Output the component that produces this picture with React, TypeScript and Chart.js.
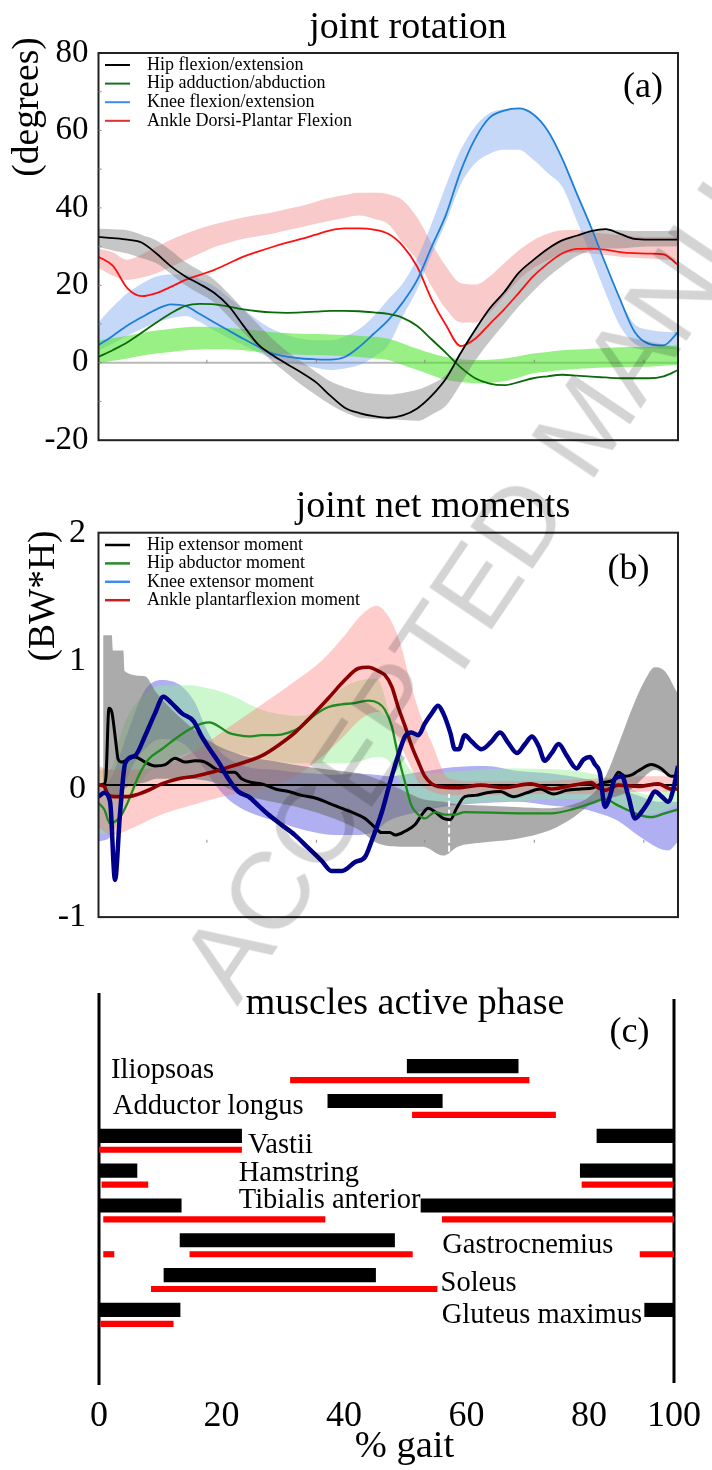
import React, { useEffect, useRef } from 'react';
import { Chart, registerables } from 'chart.js';

Chart.register(...registerables);

const SERIF = '"Liberation Serif", "Times New Roman", Times, serif';

// ================= Panel (a): joint rotation (degrees) =================
const GAIT_A = [0, 2.5, 5, 7.5, 10, 12.5, 15, 17.5, 20, 22.5, 25, 27.5, 30, 32.5, 35, 37.5, 40, 42.5, 45, 47.5, 50, 52.5, 55, 57.5, 60, 62.5, 65, 67.5, 70, 72.5, 75, 77.5, 80, 82.5, 85, 87.5, 90, 92.5, 95, 97.5, 100];

const HIP_FLEX = [32.5, 32.2, 31.8, 31, 28.2, 24.9, 22.3, 20.3, 18, 14.6, 9.6, 4.8, 2, -0.3, -2.5, -5, -8.5, -11.6, -13, -13.8, -14.2, -13.6, -11.8, -8.5, -4, 2.5, 8.5, 14, 18.2, 23.2, 26.5, 29.4, 31.6, 32.8, 34, 34.5, 33.3, 32, 31.8, 31.8, 31.8];
const HIP_FLEX_HI = [34.6, 34.5, 34.2, 33, 31.6, 29, 26, 23.8, 21.4, 17.8, 13.8, 10, 6.2, 3, 0.3, -2.3, -4.8, -6.3, -7.4, -8, -8.2, -7.8, -7, -5.5, -3, 2.5, 8.5, 14, 18.5, 23, 26.5, 29.5, 31.6, 33, 34, 34.5, 34.2, 34, 34, 34, 34.2];
const HIP_FLEX_LO = [29.9, 29, 28.2, 27, 25.7, 23, 20, 17.8, 15.5, 11.8, 7.9, 4, 0.3, -2.7, -5.7, -8.3, -10.8, -12.8, -14.2, -14.5, -14.6, -14.8, -15, -13.4, -11, -5.5, 0.5, 5.5, 10, 14.5, 18.5, 22, 25, 27.5, 29, 29.5, 29.5, 29.8, 30, 30, 30];

const HIP_ADD = [1.5, 3.3, 5.3, 7.8, 10.4, 12.8, 14.7, 15.2, 15.1, 14.5, 13.8, 13.3, 13, 12.9, 13, 13.2, 13.4, 13.4, 13.3, 13, 12.6, 11.6, 9.5, 6, 2.5, -1.2, -4, -5.4, -5.8, -5, -4, -3.5, -3.1, -3.3, -3.6, -3.8, -4, -4, -4, -3.5, -1.9];
const HIP_ADD_HI = [5.8, 6.4, 7, 7.7, 8.3, 8.8, 9.2, 9.3, 9.2, 9, 8.7, 8.3, 7.9, 7.7, 7.5, 7.4, 7.3, 7.2, 7, 6.7, 6.2, 5, 3.6, 2.4, 1.5, 0.9, 0.7, 0.8, 1.1, 1.7, 2.4, 2.8, 3.2, 3.4, 3.6, 3.8, 4, 4.1, 4.1, 4.3, 4.5];
const HIP_ADD_LO = [-0.2, 0.5, 1.1, 1.8, 2.4, 2.8, 3.2, 3.4, 3.5, 3.4, 3.2, 2.8, 2.4, 2.2, 2.1, 2, 1.9, 1.7, 1.5, 1.1, 0.7, -0.6, -1.9, -3.2, -4.4, -5, -5.3, -5.2, -4.8, -3.8, -2.7, -2.3, -1.9, -1.6, -1.4, -1.2, -1.1, -1, -1, -0.8, -0.6];

const KNEE_FLEX = [4.5, 7, 9.6, 11.8, 13.8, 15.1, 14.7, 12.6, 10.4, 8.3, 6.2, 4.2, 2.4, 1.6, 1.1, 0.9, 0.8, 1.5, 4.1, 7.5, 11, 15.6, 21.4, 30, 38.4, 49.5, 57.9, 63.3, 65.1, 65.7, 64.2, 60, 52.8, 43.8, 35, 25.5, 16.4, 8, 4.9, 4.5, 7.9];
const KNEE_FLEX_HI = [10.4, 14.5, 18, 20.5, 22.3, 22.8, 22.7, 21.5, 19.7, 16.8, 13.8, 11, 8.7, 7.2, 6.2, 5.8, 5.8, 6.8, 8.7, 12, 16.4, 20.5, 27, 36, 46, 55, 61, 64.5, 65.5, 65.7, 64.2, 60, 52.8, 43.8, 35, 25.5, 16.4, 10, 8.5, 8, 7.9];
const KNEE_FLEX_LO = [3.2, 5, 7, 8.8, 10.4, 11.5, 12.1, 10.5, 8.3, 6.3, 4.5, 2.7, 1.1, 0.2, -0.6, -1.3, -1.9, -1.5, -0.6, 1.5, 4.5, 12, 19, 28, 36.5, 46, 51.5, 54, 55, 55, 52.5, 49, 45.5, 36.8, 27.5, 18, 9.5, 5, 3.8, 3.6, 3.5];

const ANKLE_FLEX = [27.4, 25, 19.2, 17.2, 18, 19.6, 21.4, 22.7, 24, 25.7, 27.4, 28.7, 29.9, 31, 32, 33.1, 34.2, 34.7, 34.7, 34.4, 33.3, 30.2, 24.8, 16.3, 9.6, 4.3, 6.2, 10, 13.8, 18, 22.3, 25.6, 28.2, 29.4, 29.5, 29.2, 28.6, 28.3, 28.2, 28, 25.3];
const ANKLE_FLEX_HI = [29.5, 28.5, 26.6, 28, 29.9, 31.8, 33.3, 34.7, 35.8, 36.7, 37.5, 38.2, 38.8, 39.7, 40.5, 41.6, 42.6, 43.3, 43.9, 43.9, 43.5, 42, 37.5, 30.8, 24.8, 20.6, 20.2, 22.3, 25.7, 29, 31.6, 33.3, 34.2, 34.3, 33.7, 33.3, 32.9, 32.7, 32.5, 32.5, 32.5];
const ANKLE_FLEX_LO = [24.5, 22.5, 21.4, 22, 23.1, 24.8, 26.5, 28.2, 29.9, 31, 32, 32.7, 33.3, 34.2, 35, 35.9, 36.7, 37.4, 38, 37.2, 35.8, 31, 26.5, 19.7, 13.8, 10.4, 10.4, 13, 17.2, 21.4, 24.4, 26.5, 28.2, 28.5, 28.2, 27.8, 27.4, 27.1, 26.9, 26.7, 26.5];

const ROT_LEGEND = ['Hip flexion/extension', 'Hip adduction/abduction', 'Knee flexion/extension', 'Ankle Dorsi-Plantar Flexion'];
const ROT_Y_TICK_STEP = 20;
const ROT_Y_MIN = -20;
const ROT_Y_MAX = 80;
const ROT_MINOR_Y = [70, 60, 50, 40, 30, 20, 10, 0, -10];
const MINOR_X_TICKS = [18.7, 37.6, 56.3, 75.2, 94.1];

// ================= Panel (b): joint net moments (BW*H) =================
// [gait %, value]
const HIP_EXT_MOMENT: [number, number][] = [[0, 0.03], [1, 0.04], [1.3, 0.1], [1.8, 0.63], [2.3, 0.6], [2.9, 0.4], [3.4, 0.23], [4, 0.21], [5.1, 0.23], [6.3, 0.25], [8, 0.21], [9.75, 0.18], [11.5, 0.19], [13.2, 0.24], [14.9, 0.21], [16.7, 0.22], [18.4, 0.21], [20.1, 0.16], [21.8, 0.13], [23.5, 0.13], [24.7, 0.08], [26.4, 0.05], [28.2, 0.04], [30.5, 0], [32.8, -0.02], [35.1, -0.05], [37.4, -0.07], [39.7, -0.11], [41.9, -0.15], [44.2, -0.19], [46, -0.23], [47.7, -0.3], [48.8, -0.34], [50.3, -0.34], [51.2, -0.36], [52.9, -0.33], [54.6, -0.28], [55.8, -0.2], [56.9, -0.15], [58.1, -0.18], [59.5, -0.23], [60.7, -0.24], [61.8, -0.15], [63.2, -0.06], [65, -0.05], [67, -0.03], [69.3, -0.02], [71.6, -0.06], [73.9, -0.03], [76.2, 0], [78.5, -0.04], [80.8, -0.01], [83.1, 0], [85.4, 0.01], [87.1, 0.05], [88.8, 0.07], [89.7, 0.13], [90.9, 0.1], [92, 0.11], [93.1, 0.14], [95.4, 0.19], [97.1, 0.16], [98.8, 0.1], [100, 0.1]];
const HIP_ABD_MOMENT: [number, number][] = [[0, -0.11], [1, -0.16], [2, -0.27], [3, -0.25], [4, -0.2], [5.1, -0.1], [6.9, 0.1], [8.6, 0.23], [10.9, 0.31], [13.2, 0.39], [15.5, 0.46], [17.8, 0.51], [19.2, 0.52], [20.7, 0.49], [22.4, 0.44], [24.1, 0.42], [25.9, 0.41], [28.2, 0.42], [30.5, 0.42], [32.8, 0.44], [35.1, 0.49], [37.4, 0.58], [39.7, 0.64], [41.9, 0.66], [44.2, 0.67], [46.6, 0.69], [48.3, 0.67], [49.4, 0.62], [50.6, 0.49], [51.7, 0.26], [52.9, 0.05], [54, -0.13], [55.2, -0.2], [56.3, -0.23], [58.1, -0.18], [59.8, -0.2], [61.5, -0.2], [63.2, -0.18], [72.5, -0.19], [78.2, -0.19], [81.7, -0.16], [85.1, -0.11], [87.4, -0.08], [89.7, -0.13], [93.2, -0.2], [95.4, -0.22], [97.7, -0.19], [100, -0.16]];
const KNEE_EXT_MOMENT: [number, number][] = [[0, -0.06], [1, -0.03], [2, -0.1], [2.85, -0.71], [3.7, -0.2], [4.6, 0.2], [6.3, 0.26], [8, 0.41], [9.75, 0.59], [11.2, 0.72], [12.6, 0.67], [14.4, 0.59], [16.4, 0.53], [17.8, 0.41], [19.2, 0.31], [20.7, 0.21], [22.4, 0.08], [24.1, -0.02], [25.9, -0.06], [27.6, -0.13], [29.3, -0.2], [31.6, -0.28], [33.9, -0.36], [36.2, -0.46], [38.5, -0.56], [40.2, -0.64], [42, -0.64], [44.3, -0.57], [46, -0.53], [47.1, -0.41], [48.9, -0.18], [50.3, 0.05], [51.7, 0.26], [52.9, 0.41], [54, 0.44], [55.2, 0.42], [56.3, 0.51], [57.5, 0.59], [58.6, 0.65], [59.5, 0.59], [60.7, 0.44], [61.5, 0.31], [62.2, 0.31], [63.2, 0.42], [64.4, 0.37], [66.1, 0.31], [67.8, 0.37], [69.3, 0.44], [70.7, 0.36], [72.2, 0.28], [73.6, 0.35], [74.8, 0.41], [76, 0.33], [77, 0.22], [78.2, 0.28], [79.4, 0.35], [80.8, 0.26], [82.5, 0.16], [83.7, 0.23], [84.8, 0.25], [85.7, 0.19], [86.5, 0.13], [87.4, -0.14], [88.3, -0.05], [89.1, 0.08], [90.3, 0.1], [91.4, -0.05], [92.6, -0.23], [93.7, -0.18], [94.9, -0.1], [96, -0.02], [97.2, -0.06], [98.3, -0.1], [99.2, 0], [100, 0.18]];
const ANKLE_PF_MOMENT: [number, number][] = [[0, 0.03], [1, 0.02], [1.7, -0.05], [2.8, -0.06], [5.1, -0.06], [6.9, -0.04], [8.6, -0.01], [10.9, 0.04], [13.8, 0.08], [16.7, 0.1], [19.5, 0.13], [22.4, 0.17], [25.3, 0.21], [28.2, 0.26], [31, 0.34], [33.9, 0.44], [36.8, 0.57], [39.7, 0.71], [42.5, 0.85], [44.8, 0.94], [46.6, 0.95], [48.3, 0.92], [49.4, 0.89], [50.6, 0.8], [51.7, 0.64], [52.9, 0.49], [54, 0.34], [55.2, 0.21], [56.3, 0.1], [57.5, 0.04], [58.6, 0.02], [62, 0.01], [66, 0.03], [70, 0.01], [74.5, 0.04], [78.2, 0], [82, 0.03], [85, 0.05], [86.2, 0.01], [87.4, -0.01], [89.7, 0.03], [93.2, 0.02], [96.6, 0.04], [98.8, 0], [100, 0]];

// [gait %, lower, upper]
const HIP_EXT_SD: [number, number, number][] = [[0.8, -0.05, 1.2], [2.3, -0.05, 1.2], [2.5, -0.05, 1.08], [4.3, -0.02, 1.08], [4.5, 0, 0.92], [8, 0.05, 0.88], [10, 0.08, 0.75], [15, 0.08, 0.52], [20, 0.05, 0.35], [25, -0.05, 0.26], [30, -0.1, 0.22], [35, -0.15, 0.18], [40, -0.22, 0.15], [45, -0.32, 0.12], [48, -0.42, 0.08], [52, -0.45, 0], [56, -0.45, -0.08], [59.5, -0.52, -0.1], [62, -0.45, -0.12], [66, -0.42, -0.13], [72, -0.39, -0.14], [78, -0.32, -0.15], [82, -0.22, -0.12], [85, -0.12, -0.05], [87.5, -0.08, 0.1], [90, -0.05, 0.38], [92, 0, 0.62], [94.3, 0.1, 0.85], [96, 0.15, 0.95], [97.7, 0.12, 0.92], [100, 0.08, 0.74]];
const ANKLE_PF_SD: [number, number, number][] = [[0, -0.3, 0.18], [2.3, -0.36, 0.15], [5.1, -0.32, 0.15], [10.9, -0.2, 0.18], [16.7, -0.12, 0.3], [22.4, -0.05, 0.48], [28.2, 0, 0.66], [33.9, 0.1, 0.84], [38.5, 0.25, 1], [42.5, 0.42, 1.2], [45.4, 0.55, 1.36], [48, 0.6, 1.43], [50, 0.55, 1.35], [52, 0.35, 1.15], [53.6, 0.2, 0.87], [55.2, 0.05, 0.62], [57.5, -0.02, 0.36], [60.5, -0.05, 0.08], [65, -0.05, 0.06], [75, -0.04, 0.06], [85, -0.04, 0.08], [95, -0.02, 0.1], [100, -0.02, 0.1]];
const HIP_ABD_SD: [number, number, number][] = [[0, -0.35, 0.15], [2, -0.35, 0.15], [4, -0.2, 0.45], [5.1, -0.1, 0.57], [8, 0.1, 0.74], [10.9, 0.2, 0.81], [15.5, 0.28, 0.81], [19.5, 0.3, 0.78], [23.5, 0.28, 0.72], [27, 0.25, 0.64], [30.5, 0.22, 0.59], [34, 0.2, 0.57], [36.8, 0.2, 0.59], [39.7, 0.2, 0.69], [42.5, 0.2, 0.8], [45.4, 0.22, 0.85], [48, 0.25, 0.86], [50.5, 0.2, 0.55], [52.8, -0.05, 0.22], [55, -0.15, 0.12], [60, -0.12, 0.13], [70, -0.1, 0.16], [80, -0.08, 0.15], [85, -0.08, 0.12], [90, -0.15, 0.05], [95, -0.2, -0.05], [100, -0.12, 0.05]];
const KNEE_EXT_SD: [number, number, number][] = [[0, -0.41, 0], [2.3, -0.36, 0.1], [5.1, 0.1, 0.45], [8, 0.31, 0.77], [10.9, 0.39, 0.85], [14.4, 0.36, 0.8], [16.7, 0.26, 0.67], [18.4, 0.15, 0.49], [20.7, 0, 0.31], [23.5, -0.12, 0.21], [27, -0.2, 0.16], [30.5, -0.25, 0.15], [33.9, -0.3, 0.13], [37.4, -0.34, 0.12], [40.8, -0.36, 0.11], [44.2, -0.36, 0.12], [47.7, -0.33, 0.11], [50, -0.25, 0.1], [55.2, -0.18, 0.13], [61, -0.13, 0.17], [66.7, -0.11, 0.18], [72.5, -0.1, 0.14], [78, -0.13, 0.12], [84, -0.16, 0.08], [87, -0.2, 0.05], [89.7, -0.25, 0], [93, -0.36, -0.05], [96.6, -0.46, -0.1], [98.3, -0.48, -0.1], [100, -0.41, -0.1]];

const MOM_LEGEND = ['Hip extensor moment', 'Hip abductor moment', 'Knee extensor moment', 'Ankle plantarflexion moment'];
const MOM_REF_LEVEL = 0.03;
const MOM_MINOR_TICK_LEVEL = -0.42;
// white dashed marker inside the grey band: [gait %, from, to]
const MOM_DASH_MARK: [number, number, number] = [60.5, -0.49, -0.04];

// ================= Panel (c): muscles active phase =================
const MUSCLES = ['Iliopsoas', 'Adductor longus', 'Vastii', 'Hamstring', 'Tibialis anterior', 'Gastrocnemius', 'Soleus', 'Gluteus maximus'];
// black bars: [start %, end %] segments per muscle
const EMG_ACTIVE: [number, number][][] = [
  [[53.6, 72.9]],
  [[39.8, 59.7]],
  [[0, 24.8], [86.6, 100]],
  [[0, 6.6], [83.7, 100]],
  [[0, 14.3], [56, 100]],
  [[14.1, 51.4]],
  [[11.3, 48.1]],
  [[0, 14.1], [94.9, 100]],
];
// red bars
const MODEL_ACTIVE: [number, number][][] = [
  [[33.3, 74.8]],
  [[54.5, 79.4]],
  [[0, 24.8]],
  [[0.5, 8.5], [84, 99.8]],
  [[0.8, 39.3], [59.7, 100]],
  [[0.8, 2.6], [15.8, 54.5], [94.1, 100]],
  [[9.1, 58.8]],
  [[0.3, 12.9]],
];
const GAIT_TICKS = [0, 20, 40, 60, 80, 100];

// ---------- layout (not data) ----------
const W = 712;
const RED_ROW_OFFSET = 0.4;
const LABEL_ANCHOR_PCT = [2.1, 2.4, 25.9, 24.3, 24.3, 59.7, 59.4, 59.6];
const LABEL_BASELINE_DY = [11.5, 13, 17, 10, 3, 13, 16, 13];
const TICK_AXIS_MAX = 93.9;

type AnyCtx = CanvasRenderingContext2D;

function txt(ctx: AnyCtx, s: string, x: number, y: number, size: number, align: CanvasTextAlign = 'left', baseline: CanvasTextBaseline = 'alphabetic') {
  ctx.font = `${size}px ${SERIF}`;
  ctx.textAlign = align;
  ctx.textBaseline = baseline;
  ctx.fillStyle = '#000';
  ctx.fillText(s, x, y);
}

function rotTxt(ctx: AnyCtx, s: string, x: number, y: number, size: number) {
  ctx.save();
  ctx.translate(x, y);
  ctx.rotate(-Math.PI / 2);
  txt(ctx, s, 0, 0, size, 'center', 'alphabetic');
  ctx.restore();
}

function legend(ctx: AnyCtx, labels: string[], colors: string[], top: number, step: number, lw: number) {
  labels.forEach((l, i) => {
    const y = top + i * step;
    ctx.strokeStyle = colors[i];
    ctx.lineWidth = lw;
    ctx.beginPath();
    ctx.moveTo(105, y);
    ctx.lineTo(130, y);
    ctx.stroke();
    txt(ctx, l, 147, y, 18, 'left', 'middle');
  });
}

function lineDs(label: string, data: { x: number; y: number }[], color: string, width: number, order = 0) {
  return {
    type: 'line', label, data, borderColor: color, borderWidth: width, pointRadius: 0,
    fill: false, cubicInterpolationMode: 'monotone', order,
  };
}

function pushBand(ds: any[], xs: number[], lo: number[], hi: number[], color: string) {
  const i = ds.length;
  ds.push({
    type: 'line', label: 'band', data: xs.map((x, k) => ({ x, y: hi[k] })), borderColor: 'rgba(0,0,0,0)', borderWidth: 0,
    pointRadius: 0, fill: { target: i + 1 }, backgroundColor: color, cubicInterpolationMode: 'monotone', order: 2,
  });
  ds.push({
    type: 'line', label: 'band', data: xs.map((x, k) => ({ x, y: lo[k] })), borderColor: 'rgba(0,0,0,0)', borderWidth: 0,
    pointRadius: 0, fill: false, cubicInterpolationMode: 'monotone', order: 2,
  });
}

const zip = (xs: number[], ys: number[]) => xs.map((x, i) => ({ x, y: ys[i] }));
const pairs = (p: [number, number][]) => p.map(([x, y]) => ({ x, y }));

function boxPlugin() {
  return {
    id: 'box',
    afterDraw(chart: any) {
      const { ctx, chartArea: a } = chart;
      ctx.save();
      ctx.strokeStyle = '#222';
      ctx.lineWidth = 2;
      ctx.strokeRect(a.left, a.top, a.right - a.left, a.bottom - a.top);
      ctx.restore();
    },
  };
}

function buildA(): any {
  const ds: any[] = [];
  pushBand(ds, GAIT_A, HIP_FLEX_LO, HIP_FLEX_HI, 'rgba(120,120,120,0.42)');
  pushBand(ds, GAIT_A, HIP_ADD_LO, HIP_ADD_HI, 'rgba(76,230,40,0.57)');
  pushBand(ds, GAIT_A, KNEE_FLEX_LO, KNEE_FLEX_HI, 'rgba(100,149,237,0.37)');
  pushBand(ds, GAIT_A, ANKLE_FLEX_LO, ANKLE_FLEX_HI, 'rgba(240,128,128,0.42)');
  ds.push(lineDs('zero', [{ x: 0, y: 0 }, { x: 100, y: 0 }], '#b8b8b8', 2, 3));
  ds.push(lineDs(ROT_LEGEND[0], zip(GAIT_A, HIP_FLEX), '#000000', 1.8));
  ds.push(lineDs(ROT_LEGEND[1], zip(GAIT_A, HIP_ADD), '#0b6b0b', 1.8));
  ds.push(lineDs(ROT_LEGEND[2], zip(GAIT_A, KNEE_FLEX), '#1c7ed6', 1.8));
  ds.push(lineDs(ROT_LEGEND[3], zip(GAIT_A, ANKLE_FLEX), '#ff1010', 1.8));

  const deco = {
    id: 'decoA',
    afterDraw(chart: any) {
      const { ctx, chartArea: a, scales } = chart;
      ctx.save();
      ctx.strokeStyle = '#888';
      ctx.lineWidth = 1;
      ROT_MINOR_Y.forEach((v) => {
        const y = scales.y.getPixelForValue(v);
        ctx.beginPath(); ctx.moveTo(a.left, y); ctx.lineTo(a.left + 3, y); ctx.stroke();
      });
      const y0 = scales.y.getPixelForValue(0);
      MINOR_X_TICKS.forEach((v) => {
        const x = scales.x.getPixelForValue(v);
        ctx.beginPath(); ctx.moveTo(x, y0); ctx.lineTo(x, y0 - 3); ctx.stroke();
      });
      txt(ctx, 'joint rotation', 408, 37.7, 38, 'center');
      rotTxt(ctx, '(degrees)', 38, 107, 37.5);
      txt(ctx, '(a)', 643, 96.8, 36, 'center');
      legend(ctx, ROT_LEGEND, ['#000', '#1a6e1a', '#3d8bf0', '#e03030'], a.top + 12, 18.6, 2);
      ctx.restore();
    },
  };

  return {
    type: 'line',
    data: { datasets: ds },
    options: {
      animation: false, responsive: false, devicePixelRatio: 1,
      layout: { padding: { left: 0, right: W - 678, top: 53, bottom: 470 - 446.5 } },
      plugins: { legend: { display: false }, tooltip: { enabled: false } },
      scales: {
        x: { type: 'linear', min: 0, max: 100, display: false },
        y: {
          type: 'linear', min: ROT_Y_MIN, max: ROT_Y_MAX,
          ticks: { stepSize: ROT_Y_TICK_STEP, font: { family: SERIF, size: 33 }, color: '#000', padding: 10 },
          grid: { display: false, drawTicks: false }, border: { display: false },
          afterFit: (s: any) => { s.width = 98.5; },
        },
      },
    },
    plugins: [boxPlugin(), deco],
  };
}

function buildB(): any {
  const ds: any[] = [];
  const band = (b: [number, number, number][], color: string) =>
    pushBand(ds, b.map((r) => r[0]), b.map((r) => r[1]), b.map((r) => r[2]), color);
  band(HIP_EXT_SD, 'rgba(110,110,110,0.58)');
  band(ANKLE_PF_SD, 'rgba(255,110,110,0.35)');
  band(HIP_ABD_SD, 'rgba(144,238,144,0.45)');
  band(KNEE_EXT_SD, 'rgba(80,80,225,0.46)');
  ds.push({
    ...lineDs('mark', [{ x: MOM_DASH_MARK[0], y: MOM_DASH_MARK[1] }, { x: MOM_DASH_MARK[0], y: MOM_DASH_MARK[2] }], '#ffffff', 2, 1),
    borderDash: [6, 3], cubicInterpolationMode: 'default', tension: 0,
  });
  ds.push(lineDs('ref', [{ x: 0, y: MOM_REF_LEVEL }, { x: 100, y: MOM_REF_LEVEL }], '#000', 2, 1));
  ds.push(lineDs(MOM_LEGEND[2], pairs(KNEE_EXT_MOMENT), '#00008b', 4.5));
  ds.push(lineDs(MOM_LEGEND[3], pairs(ANKLE_PF_MOMENT), '#8b0000', 3.6));
  ds.push(lineDs(MOM_LEGEND[1], pairs(HIP_ABD_MOMENT), '#1f8a1f', 2.3));
  ds.push(lineDs(MOM_LEGEND[0], pairs(HIP_EXT_MOMENT), '#000000', 3));

  const deco = {
    id: 'decoB',
    afterDraw(chart: any) {
      const { ctx, chartArea: a, scales } = chart;
      ctx.save();
      ctx.strokeStyle = '#888';
      ctx.lineWidth = 1;
      const yt = scales.y.getPixelForValue(MOM_MINOR_TICK_LEVEL);
      MINOR_X_TICKS.forEach((v) => {
        const x = scales.x.getPixelForValue(v);
        ctx.beginPath(); ctx.moveTo(x, yt); ctx.lineTo(x, yt - 3); ctx.stroke();
      });
      txt(ctx, 'joint net moments', 433, 47.3, 38, 'center');
      rotTxt(ctx, '(BW*H)', 54, 126, 37.5);
      txt(ctx, '(b)', 628.5, 108.5, 36, 'center');
      legend(ctx, MOM_LEGEND, ['#000', '#2a8a2a', '#3d8bf0', '#c82020'], a.top + 12.3, 18.4, 2.5);
      ctx.restore();
    },
  };

  return {
    type: 'line',
    data: { datasets: ds },
    options: {
      animation: false, responsive: false, devicePixelRatio: 1,
      layout: { padding: { left: 0, right: W - 678, top: 62.7, bottom: 480 - 454.5 } },
      plugins: { legend: { display: false }, tooltip: { enabled: false } },
      scales: {
        x: { type: 'linear', min: 0, max: 100, display: false },
        y: {
          type: 'linear', min: -1, max: 2,
          ticks: { stepSize: 1, font: { family: SERIF, size: 34 }, color: '#000', padding: 12.5 },
          grid: { display: false, drawTicks: false }, border: { display: false },
          afterFit: (s: any) => { s.width = 98.5; },
        },
      },
    },
    plugins: [boxPlugin(), deco],
  };
}

function buildC(): any {
  const black: any[] = [];
  const red: any[] = [];
  EMG_ACTIVE.forEach((segs, row) => segs.forEach(([s, e]) => black.push({ x: [s, e], y: row })));
  MODEL_ACTIVE.forEach((segs, row) => segs.forEach(([s, e]) => red.push({ x: [s, e], y: row + RED_ROW_OFFSET })));

  const deco = {
    id: 'decoC',
    beforeDatasetsDraw(chart: any) {
      const { ctx, chartArea: a } = chart;
      ctx.save();
      ctx.strokeStyle = '#000';
      ctx.lineWidth = 3;
      ctx.beginPath(); ctx.moveTo(a.left, 43); ctx.lineTo(a.left, 435); ctx.stroke();
      ctx.beginPath(); ctx.moveTo(a.right, 49); ctx.lineTo(a.right, 433); ctx.stroke();
      ctx.restore();
    },
    afterDraw(chart: any) {
      const { ctx, scales } = chart;
      ctx.save();
      txt(ctx, 'muscles active phase', 405, 64.3, 38, 'center');
      txt(ctx, '(c)', 629.5, 91.8, 36, 'center');
      txt(ctx, '% gait', 404.5, 507, 38.5, 'center');
      MUSCLES.forEach((m, i) => {
        const x = scales.x.getPixelForValue(LABEL_ANCHOR_PCT[i]);
        const y = scales.y.getPixelForValue(i) + LABEL_BASELINE_DY[i];
        txt(ctx, m, x, y, 28.5, 'left', 'alphabetic');
      });
      ctx.restore();
    },
  };

  return {
    type: 'bar',
    data: {
      datasets: [
        { label: 'EMG', data: black, backgroundColor: '#000', barThickness: 13.5, maxBarThickness: 13.5, grouped: false, xAxisID: 'x', yAxisID: 'y' },
        { label: 'Model', data: red, backgroundColor: '#ff0000', barThickness: 5.5, maxBarThickness: 5.5, grouped: false, xAxisID: 'x', yAxisID: 'y' },
      ],
    },
    options: {
      indexAxis: 'y',
      animation: false, responsive: false, devicePixelRatio: 1,
      layout: { padding: { left: 99, right: W - 677.5, top: 45, bottom: 26 } },
      plugins: { legend: { display: false }, tooltip: { enabled: false } },
      scales: {
        x: { type: 'linear', min: 0, max: 100, display: false },
        xt: {
          type: 'linear', axis: 'x', position: 'bottom', min: 0, max: TICK_AXIS_MAX,
          afterBuildTicks: (s: any) => { s.ticks = GAIT_TICKS.map((v) => ({ value: Math.min(v, TICK_AXIS_MAX) })); },
          ticks: {
            font: { family: SERIF, size: 36 }, color: '#000', padding: 11, maxRotation: 0, autoSkip: false,
            callback: (_v: any, i: number) => String(GAIT_TICKS[i]),
          },
          grid: { display: false, drawTicks: false }, border: { display: false },
          afterFit: (s: any) => { s.height = 60; },
        },
        y: { type: 'linear', min: -1.113, max: 8.196, reverse: true, display: false },
      },
    },
    plugins: [deco],
  };
}

function ChartCanvas({ top, height, build }: { top: number; height: number; build: () => any }) {
  const ref = useRef<HTMLCanvasElement>(null);
  useEffect(() => {
    const chart = new Chart(ref.current as HTMLCanvasElement, build());
    return () => chart.destroy();
  }, []);
  return (
    <canvas
      ref={ref}
      width={W}
      height={height}
      style={{ position: 'absolute', left: 0, top, width: W, height, display: 'block' }}
    />
  );
}

export default function App() {
  return (
    <div style={{ position: 'absolute', left: 0, top: 0, width: W, height: 1470, overflow: 'hidden', background: '#fff' }}>
      <ChartCanvas top={0} height={470} build={buildA} />
      <ChartCanvas top={470} height={480} build={buildB} />
      <ChartCanvas top={950} height={520} build={buildC} />
      <div
        style={{
          position: 'absolute', left: 160, top: 955, fontFamily: '"Liberation Sans", Arial, sans-serif',
          fontSize: 110, lineHeight: 1, whiteSpace: 'nowrap', color: 'rgba(0,0,0,0.17)',
          transformOrigin: '0 0', transform: 'rotate(-56deg)', pointerEvents: 'none',
        }}
      >
        ACCEPTED MANUSCRIPT
      </div>
    </div>
  );
}
